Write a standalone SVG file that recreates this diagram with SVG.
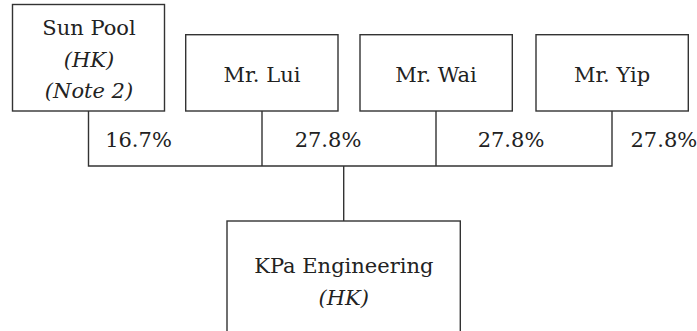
<svg xmlns="http://www.w3.org/2000/svg" width="697" height="331" viewBox="0 0 697 331">
<style>
.box{fill:#fff;stroke:#333;stroke-width:1.4}
.ln{fill:none;stroke:#333;stroke-width:1.4}
text{font-family:'DejaVu Serif',serif;font-size:21px;fill:#222;text-anchor:middle}
.it{font-style:italic}
.pct{text-anchor:start}
</style>
<rect width="697" height="331" fill="#fff"/>
<g id="connectors">
<path class="ln" d="M88.5 111V166H612V111M262 111V166M436 111V166M343.7 166V221"/>
</g>
<g id="sunpool">
<rect class="box" x="12.5" y="4.5" width="152" height="106.5"/>
<text x="89" y="35">Sun Pool</text>
<text class="it" x="89" y="67">(HK)</text>
<text class="it" x="89" y="98">(Note 2)</text>
</g>
<g id="lui">
<rect class="box" x="185.7" y="34.7" width="152.3" height="76.3"/>
<text x="262" y="82">Mr. Lui</text>
</g>
<g id="wai">
<rect class="box" x="360" y="34.7" width="152.3" height="76.3"/>
<text x="436" y="82">Mr. Wai</text>
</g>
<g id="yip">
<rect class="box" x="536" y="34.7" width="152.3" height="76.3"/>
<text x="612" y="82">Mr. Yip</text>
</g>
<g id="labels">
<text x="138.5" y="147">16.7%</text>
<text x="328" y="147">27.8%</text>
<text x="511" y="147">27.8%</text>
<text class="pct" x="630.5" y="147">27.8%</text>
</g>
<g id="kpa">
<rect class="box" x="227" y="221" width="233.3" height="120"/>
<text x="343.8" y="273">KPa Engineering</text>
<text class="it" x="343.8" y="305">(HK)</text>
</g>
</svg>
